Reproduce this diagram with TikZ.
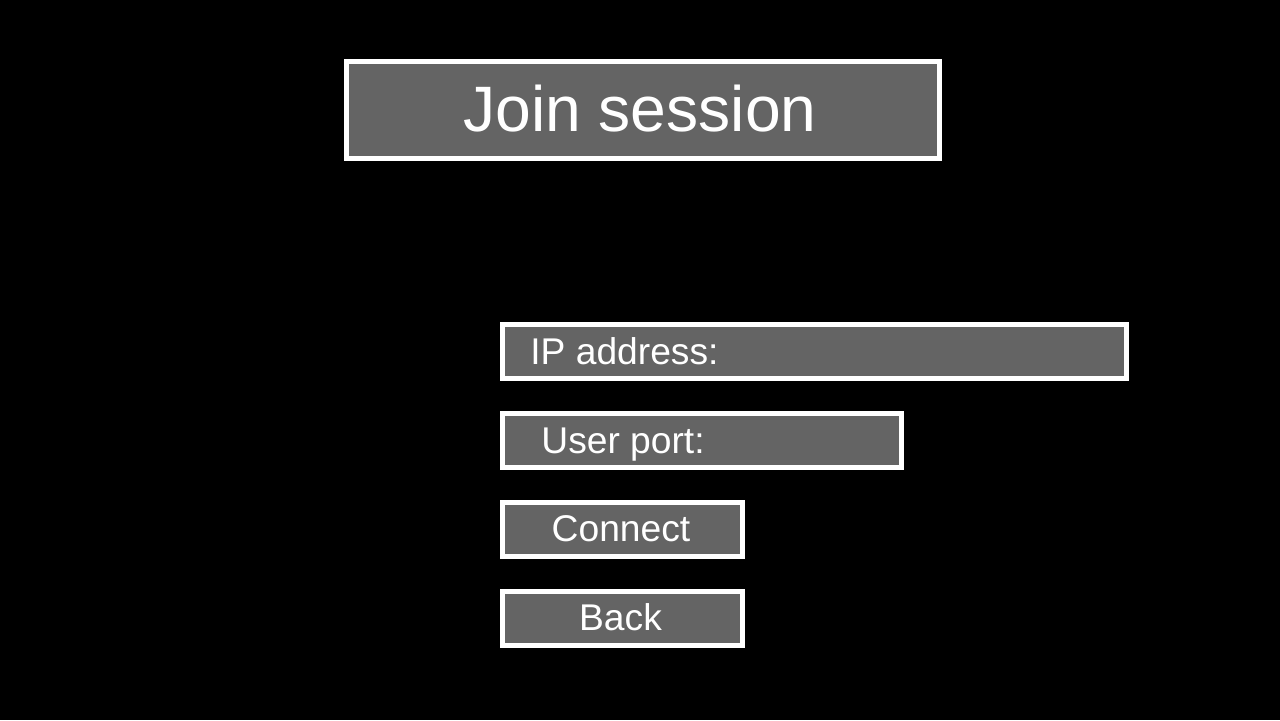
\documentclass[tikz,border=0pt]{standalone}
\usepackage{fontspec}
\setmainfont{Liberation Sans}
\usepackage{xcolor}
\definecolor{panelgray}{RGB}{100,100,100}

\begin{document}
\begin{tikzpicture}[x=0.5pt,y=-0.5pt,
    menubox/.style={draw=white,line width=2.5pt,fill=panelgray,inner sep=0pt,outer sep=0pt},
    menutext/.style={text=white,inner sep=0pt,font=\fontsize{18.6}{22}\selectfont},
    titletext/.style={text=white,inner sep=0pt,font=\fontsize{32.1}{38}\selectfont}]
		% screen
		\fill[black] (0,0) rectangle (1280,720);
		% title
		\node[menubox,minimum width=296.5pt,minimum height=48.5pt] (title) at (643,110) {};
		\node[titletext,anchor=base] (titlelabel) at (640,131.5) {Join session};
		% fields
		\node[menubox,minimum width=312pt,minimum height=27pt] (ipfield) at (814.5,351.5) {};
		\node[menutext,anchor=base west] (iplabel) at (530,364) {IP address:};
		\node[menubox,minimum width=199.5pt,minimum height=27pt] (portfield) at (702,440.5) {};
		\node[menutext,anchor=base west] (portlabel) at (541,453) {User port:};
		% buttons
		\node[menubox,minimum width=120pt,minimum height=27pt] (connectbtn) at (622.5,529.5) {};
		\node[menutext,anchor=base] (connectlabel) at (621,541) {Connect};
		\node[menubox,minimum width=120pt,minimum height=27pt] (backbtn) at (622.5,618.5) {};
		\node[menutext,anchor=base] (backlabel) at (620.5,630) {Back};
\end{tikzpicture}
\end{document}
